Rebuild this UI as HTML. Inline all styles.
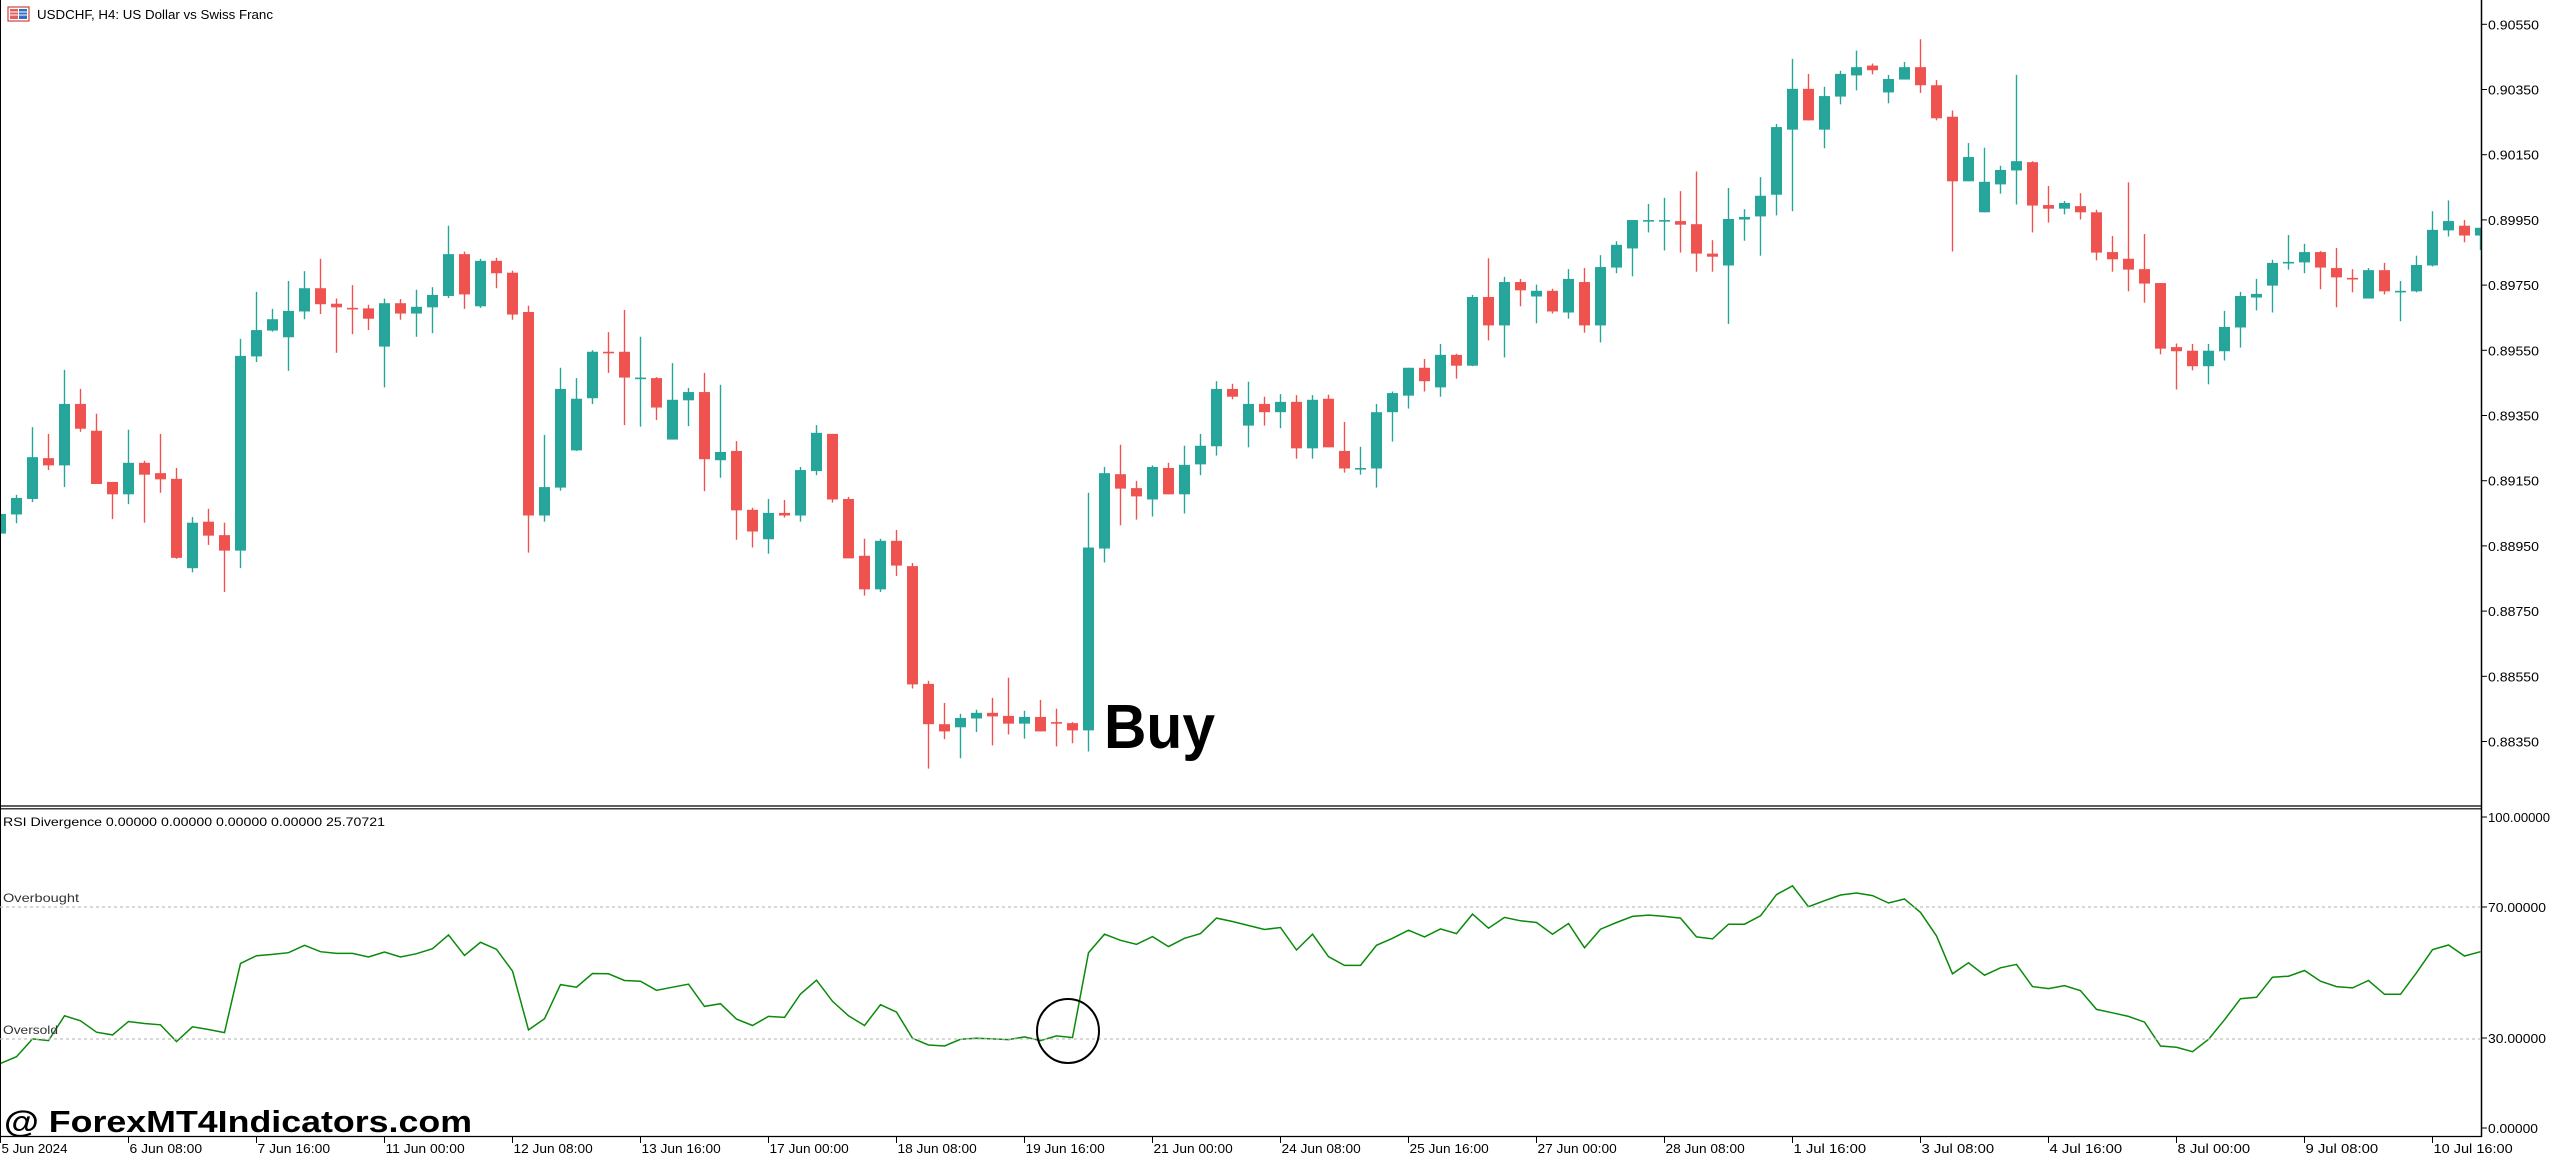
<!DOCTYPE html>
<html><head><meta charset="utf-8"><style>
html,body{margin:0;padding:0;background:#fff;width:2550px;height:1162px;overflow:hidden}
svg{display:block}
text{font-family:"Liberation Sans","DejaVu Sans",sans-serif}
</style></head><body>
<svg id="s" width="2550" height="1162" xmlns="http://www.w3.org/2000/svg">
<rect width="2550" height="1162" fill="#fff"/>
<g id="candles"></g>
<g id="rsi"></g>
<!-- frame -->
<line x1="0.5" y1="0" x2="0.5" y2="1137" stroke="#000" stroke-width="1"/>
<line x1="2481.5" y1="0" x2="2481.5" y2="1137" stroke="#000" stroke-width="1.5"/>
<line x1="0" y1="806" x2="2482" y2="806" stroke="#000" stroke-width="1.2"/>
<line x1="0" y1="808.8" x2="2482" y2="808.8" stroke="#000" stroke-width="1.2"/>
<line x1="0" y1="1136.5" x2="2482" y2="1136.5" stroke="#000" stroke-width="1.2"/>
<!-- header -->
<rect x="8" y="7" width="21" height="14" fill="#fff" stroke="#d04040" stroke-width="1.2"/>
<rect x="10" y="9" width="8" height="10" fill="#e06060"/>
<rect x="19" y="9" width="8" height="10" fill="#3070c0"/>
<line x1="10" y1="12" x2="27" y2="12" stroke="#fff" stroke-width="1"/>
<line x1="10" y1="15" x2="27" y2="15" stroke="#fff" stroke-width="1"/>
<text x="37" y="19" font-size="13" textLength="236" lengthAdjust="spacingAndGlyphs" fill="#000">USDCHF, H4:  US Dollar vs Swiss Franc</text>
<text x="1104" y="748" font-size="62" font-weight="bold" textLength="111" lengthAdjust="spacingAndGlyphs" fill="#000">Buy</text>
<g id="paxis"></g>
<!-- RSI panel -->
<text x="3" y="826" font-size="12" textLength="382" lengthAdjust="spacingAndGlyphs" fill="#000">RSI Divergence 0.00000 0.00000 0.00000 0.00000 25.70721</text>
<line x1="0" y1="907" x2="2481" y2="907" stroke="#c0c0c0" stroke-width="1.2" stroke-dasharray="3,3"/>
<line x1="0" y1="1039" x2="2481" y2="1039" stroke="#c0c0c0" stroke-width="1.2" stroke-dasharray="3,3"/>
<text x="3" y="902" font-size="12" textLength="76" lengthAdjust="spacingAndGlyphs" fill="#333">Overbought</text>
<text x="3" y="1034" font-size="12" textLength="55" lengthAdjust="spacingAndGlyphs" fill="#333">Oversold</text>
<g font-size="13" fill="#000">
<line x1="2482" y1="817" x2="2487" y2="817" stroke="#000"/><text x="2488" y="822" textLength="62" lengthAdjust="spacingAndGlyphs">100.00000</text>
<line x1="2482" y1="907" x2="2487" y2="907" stroke="#000"/><text x="2488" y="912" textLength="58" lengthAdjust="spacingAndGlyphs">70.00000</text>
<line x1="2482" y1="1038" x2="2487" y2="1038" stroke="#000"/><text x="2488" y="1043" textLength="58" lengthAdjust="spacingAndGlyphs">30.00000</text>
<line x1="2482" y1="1128" x2="2487" y2="1128" stroke="#000"/><text x="2488" y="1133" textLength="50" lengthAdjust="spacingAndGlyphs">0.00000</text>
</g>
<ellipse cx="1068" cy="1031" rx="31" ry="32" fill="none" stroke="#000" stroke-width="2"/>
<text x="4" y="1132" font-size="31" font-weight="bold" textLength="468" lengthAdjust="spacingAndGlyphs" fill="#000">@ ForexMT4Indicators.com</text>
<g id="xaxis"></g>
</svg>
<script>
var NS="http://www.w3.org/2000/svg";
function el(tag,attrs,parent,txt){var e=document.createElementNS(NS,tag);for(var k in attrs)e.setAttribute(k,attrs[k]);if(txt)e.textContent=txt;parent.appendChild(e);return e;}
var C=[
"g,995,1033,995,1033","g,964,996,958,1013","g,885,966,827,972","r,887,901,840,910","g,782,901,716,943",
"r,782,830,753,836","r,834,937,801,937","r,933,957,933,1005","g,896,957,832,976","r,896,919,892,1012",
"r,916,928,840,954","r,927,1080,906,1082","g,1012,1100,1001,1108","r,1010,1037,985,1055","r,1036,1066,1012,1146",
"g,689,1066,656,1100","g,639,690,565,701","g,618,640,598,642","g,602,653,544,718","g,558,603,525,618",
"r,558,589,501,608","r,588,595,578,683","r,596,598,552,647","r,597,617,590,639","g,587,671,578,750",
"r,587,607,579,619","g,594,607,561,652","g,571,595,556,645","g,492,573,437,577","r,492,570,487,598",
"g,505,593,501,596","r,505,529,499,558","r,528,609,524,619","r,604,998,592,1070","g,943,998,842,1010",
"g,753,944,712,950","g,772,872,732,873","g,681,771,678,782","r,681,683,643,722","r,681,731,600,823",
"g,731,733,652,826","r,732,789,730,813","g,774,851,703,851","g,759,775,751,825","r,759,889,722,951",
"g,875,891,745,925","r,873,988,854,1045","r,987,1029,983,1060","g,993,1044,966,1072","r,993,998,968,1002",
"g,910,998,904,1010","g,838,912,823,920","r,840,967,840,973","r,966,1081,962,1081","r,1076,1141,1043,1153",
"g,1047,1141,1043,1146","r,1047,1095,1026,1115","r,1096,1325,1090,1333","r,1324,1402,1318,1488","r,1402,1416,1361,1431",
"g,1390,1408,1382,1468","g,1380,1391,1374,1417","r,1380,1387,1351,1443","r,1386,1401,1312,1422","g,1388,1401,1376,1430",
"r,1388,1416,1355,1416","r,1398,1401,1372,1445","r,1400,1414,1398,1439","g,1060,1414,954,1455","g,916,1062,904,1089",
"r,918,946,861,1017","r,945,961,931,1006","g,904,967,901,1000","r,906,957,896,957","g,900,957,863,994",
"g,863,899,840,920","g,753,864,738,882","r,753,768,743,773","g,782,824,739,866","r,782,798,768,824",
"g,778,798,763,829","r,778,868,765,888","g,774,868,765,888","r,772,866,764,866","r,873,907,817,915",
"g,906,907,865,919","g,798,907,782,944","g,761,798,758,855","g,712,766,712,791","r,712,738,695,758",
"g,687,750,666,768","r,687,708,685,733","g,575,708,571,709","r,575,630,500,659","g,546,630,536,692",
"r,546,562,540,593","g,563,574,551,626","r,563,603,559,607","g,540,605,521,617","r,546,630,519,644",
"g,517,630,494,663","g,474,518,467,529","g,426,481,426,535","g,426,427,395,450","g,426,427,383,485",
"r,428,435,370,489","r,434,491,332,526","r,491,497,465,526","g,424,514,364,627","g,420,425,405,466",
"g,379,419,343,495","g,246,377,240,417","g,172,251,114,409","r,172,233,143,233","g,186,251,168,287",
"g,143,187,137,202","g,130,146,98,175","r,127,136,123,144","g,153,179,145,200","g,130,154,120,154",
"r,130,165,76,180","r,165,229,155,233","r,226,351,214,487","g,304,351,277,351","g,352,411,286,411",
"g,329,357,321,375","g,312,330,145,396","r,314,398,312,450","r,397,404,360,431","g,393,404,389,415",
"r,399,411,374,425","r,411,489,406,504","r,488,502,457,526","r,501,522,353,564","r,521,549,453,586",
"r,548,675,548,686","r,672,680,665,754","r,679,709,666,717","g,679,709,666,744","g,633,680,602,698",
"g,573,634,565,673","g,569,576,540,601","g,509,553,503,605","g,507,510,455,522","g,488,508,472,529",
"r,488,518,486,560","r,519,537,480,595","r,538,541,521,566","g,523,578,519,578","r,523,564,509,570",
"g,563,564,544,622","g,513,564,495,566","g,445,514,409,516","g,428,446,388,458","r,437,456,426,469",
"g,441,456,441,484"];
var cg=document.getElementById("candles");
var K=1.936;
C.forEach(function(s,i){
 var p=s.split(","),col=p[0]=="g"?"#26a69a":"#ef5350";
 var bt=+p[1]/K,bb=+p[2]/K,wt=+p[3]/K,wb=+p[4]/K,x=16*i+0.5;
 if(x>2481)return;
 el("line",{x1:x,y1:wt,x2:x,y2:wb,stroke:col,"stroke-width":1.4},cg);
 var h=Math.max(bb-bt,1.6);
 var w=11,lx=x-5.5;
 if(lx+w>2481)w=2481-lx;
 el("rect",{x:lx,y:bt,width:w,height:h,fill:col},cg);
});
var R=[785,765,712,717,643,658,692,700,660,666,670,720,676,684,693,487,464,460,455,433,452,457,457,468,453,468,458,443,402,463,424,445,510,685,652,550,558,517,518,538,540,567,558,549,615,607,653,672,645,648,578,537,600,643,672,610,632,710,730,733,713,710,712,714,706,717,703,708,455,400,418,430,407,437,412,398,352,362,374,386,
380,447,400,467,493,493,433,412,388,408,384,398,340,382,350,360,365,400,368,440,385,365,347,343,347,352,408,414,370,370,345,282,256,318,300,283,277,285,307,295,335,405,518,485,522,500,490,556,562,553,568,624,634,645,662,733,737,750,713,655,592,588,528,525,508,540,556,560,538,579,579,515,446,432,465,452];
var pts=R.map(function(v,i){return (16*i+0.5)+","+(800+v/2.98).toFixed(1);}).join(" ");
el("polyline",{points:pts,fill:"none",stroke:"#0a8a0a","stroke-width":1.5},document.getElementById("rsi"));
var pa=document.getElementById("paxis");
var P=["0.90550","0.90350","0.90150","0.89950","0.89750","0.89550","0.89350","0.89150","0.88950","0.88750","0.88550","0.88350"];
P.forEach(function(t,k){var y=24.3+k*65.2;
 el("line",{x1:2482,y1:y,x2:2487,y2:y,stroke:"#000","stroke-width":1},pa);
 el("text",{x:2488,y:y+5,"font-size":13,textLength:51,lengthAdjust:"spacingAndGlyphs",fill:"#000"},pa,t);});
var X=["5 Jun 2024","6 Jun 08:00","7 Jun 16:00","11 Jun 00:00","12 Jun 08:00","13 Jun 16:00","17 Jun 00:00","18 Jun 08:00","19 Jun 16:00","21 Jun 00:00","24 Jun 08:00","25 Jun 16:00","27 Jun 00:00","28 Jun 08:00","1 Jul 16:00","3 Jul 08:00","4 Jul 16:00","8 Jul 00:00","9 Jul 08:00","10 Jul 16:00"];
var xa=document.getElementById("xaxis");
X.forEach(function(t,k){var x=128*k+0.5;
 el("line",{x1:x,y1:1137,x2:x,y2:1143,stroke:"#000","stroke-width":1},xa);
 el("text",{x:x+1,y:1153,"font-size":13,textLength:t.length*6.6,lengthAdjust:"spacingAndGlyphs",fill:"#000"},xa,t);});
</script>
</body></html>
